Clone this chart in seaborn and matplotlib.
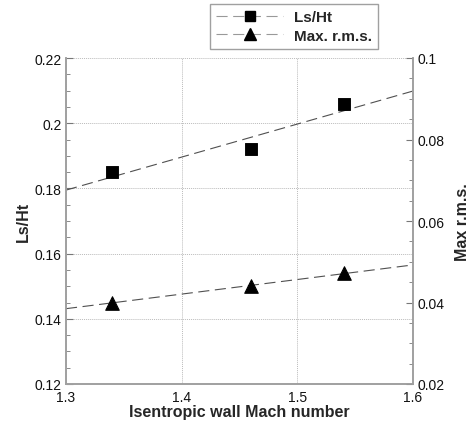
import numpy as np
import pandas as pd
import seaborn as sns
import matplotlib
matplotlib.use("Agg")
import matplotlib.pyplot as plt
from matplotlib.lines import Line2D
from matplotlib.ticker import MultipleLocator, FuncFormatter

mach = [1.34, 1.46, 1.54]
ls_ht = [0.185, 0.192, 0.206]
max_rms = [0.040, 0.044, 0.0472]
series_names = ["Ls/Ht", "Max. r.m.s."]
x_label = "Isentropic wall Mach number"
y_label = "Ls/Ht"
y2_label = "Max r.m.s."

sns.set_style("white")
plt.rcParams["font.family"] = ["Liberation Sans", "DejaVu Sans"]

fig = plt.figure(figsize=(4.76, 4.27), dpi=100)
ax = fig.add_axes([66 / 476, 1 - 385 / 427, (413 - 66) / 476, (385 - 59) / 427])
ax2 = ax.twinx()

xlim = (1.3, 1.6)
xfit = np.array(xlim)
c1 = np.polyfit(mach, ls_ht, 1)
c2 = np.polyfit(mach, max_rms, 1)
fit1 = pd.DataFrame({"x": xfit, "y": np.polyval(c1, xfit)})
fit2 = pd.DataFrame({"x": xfit, "y": np.polyval(c2, xfit)})

line_col = "#505050"
sns.lineplot(data=fit1, x="x", y="y", ax=ax, color=line_col, lw=0.8,
             linestyle=(0, (10, 5)))
sns.lineplot(data=fit2, x="x", y="y", ax=ax2, color=line_col, lw=0.8,
             linestyle=(0, (10, 5)))
sns.scatterplot(x=mach, y=ls_ht, ax=ax, marker="s", s=65, color="black",
                edgecolor="black", zorder=5)
sns.scatterplot(x=mach, y=max_rms, ax=ax2, marker="^", s=95, color="black",
                edgecolor="black", zorder=5)

ax.set_xlim(*xlim)
ax.set_ylim(0.12, 0.22)
ax2.set_ylim(0.02, 0.1)
fmt = FuncFormatter(lambda v, p: f"{round(v, 4):g}")
ax.xaxis.set_major_locator(MultipleLocator(0.1))
ax.xaxis.set_minor_locator(MultipleLocator(0.02))
ax.yaxis.set_major_locator(MultipleLocator(0.02))
ax.yaxis.set_minor_locator(MultipleLocator(0.005))
ax2.yaxis.set_major_locator(MultipleLocator(0.02))
ax2.yaxis.set_minor_locator(MultipleLocator(0.005))
ax.xaxis.set_major_formatter(fmt)
ax.yaxis.set_major_formatter(fmt)
ax2.yaxis.set_major_formatter(fmt)

spine_col = "#a0a0a0"
for a in (ax, ax2):
    for s in a.spines.values():
        s.set_color(spine_col)
        s.set_linewidth(1.2)
    a.spines["top"].set_visible(False)
ax.grid(True, which="major", color="#bbbbbb", linestyle=(0, (1, 1)), lw=0.7)
ax2.grid(False)
ax.tick_params(axis="both", which="both", direction="in", color="#777777",
               labelsize=10, labelcolor="#111111")
ax.tick_params(axis="x", pad=4)
ax.tick_params(axis="y", pad=3)
ax.tick_params(which="major", length=5, width=0.8)
ax.tick_params(which="minor", length=3, width=0.6)
ax.tick_params(axis="y", which="both", right=False)
ax2.tick_params(axis="y", which="both", direction="in", color="#777777",
                labelsize=10, labelcolor="#111111", pad=3)
ax2.tick_params(which="major", length=5, width=0.8)
ax2.tick_params(which="minor", length=3, width=0.6)

ax.set_xlabel(x_label, fontsize=11.5, fontweight="bold", labelpad=0)
ax.set_ylabel(y_label, fontsize=11.5, fontweight="bold", labelpad=3)
ax2.set_ylabel(y2_label, fontsize=11.5, fontweight="bold", labelpad=8)

handles = [
    Line2D([], [], color="#999999", lw=0.8, linestyle=(0, (10, 5)), marker="s",
           markersize=7, markerfacecolor="black", markeredgecolor="black"),
    Line2D([], [], color="#999999", lw=0.8, linestyle=(0, (10, 5)), marker="^",
           markersize=9, markerfacecolor="black", markeredgecolor="black"),
]
leg = fig.legend(handles, series_names, loc="upper left",
                 bbox_to_anchor=(210 / 476, 1 - 5 / 427), frameon=True,
                 fancybox=False, handlelength=4.4, handletextpad=0.7,
                 borderpad=0.4, labelspacing=0.3, borderaxespad=0,
                 prop={"weight": "bold", "size": 11})
leg.get_frame().set_edgecolor("#888888")
leg.get_frame().set_linewidth(1.0)

fig.savefig("out.png", dpi=100)
